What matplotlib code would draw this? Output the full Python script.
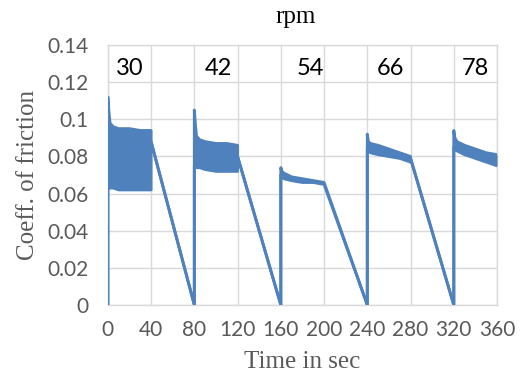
import matplotlib
matplotlib.use("Agg")
import matplotlib.pyplot as plt

# Time (s) and upper/lower envelope of the friction-coefficient trace
time_s = [0, 0, 1, 2, 5, 10, 20, 30, 40, 40, 80,
          80, 81, 82, 85, 90, 100, 110, 120, 120, 160,
          160, 161, 163, 170, 180, 190, 200, 240,
          240, 241, 243, 250, 260, 270, 280, 280, 320,
          320, 321, 323, 330, 340, 350, 360]
cof_upper = [0, 0.112, 0.104, 0.098, 0.096, 0.095, 0.095, 0.094, 0.094, 0.088, 0,
             0.105, 0.097, 0.091, 0.089, 0.088, 0.087, 0.087, 0.086, 0.080, 0,
             0.074, 0.072, 0.071, 0.069, 0.068, 0.067, 0.066, 0,
             0.092, 0.088, 0.087, 0.086, 0.084, 0.082, 0.080, 0.079, 0,
             0.094, 0.090, 0.088, 0.086, 0.084, 0.082, 0.081]
cof_lower = [0, 0.063, 0.063, 0.063, 0.063, 0.062, 0.062, 0.062, 0.062, 0.088, 0,
             0.075, 0.074, 0.074, 0.074, 0.073, 0.072, 0.072, 0.072, 0.080, 0,
             0.070, 0.069, 0.068, 0.067, 0.066, 0.066, 0.065, 0,
             0.084, 0.083, 0.082, 0.081, 0.080, 0.079, 0.077, 0.079, 0,
             0.085, 0.084, 0.083, 0.081, 0.079, 0.077, 0.075]

rpm_labels = ["30", "42", "54", "66", "78"]
rpm_x = [20, 102, 187, 261, 340]
rpm_y = 0.1275

x_ticks = [0, 40, 80, 120, 160, 200, 240, 280, 320, 360]
y_ticks = [0, 0.02, 0.04, 0.06, 0.08, 0.1, 0.12, 0.14]
y_tick_labels = ["0", "0.02", "0.04", "0.06", "0.08", "0.1", "0.12", "0.14"]

blue = "#4f81bd"
grid = "#d9d9d9"
tick_col = "#595959"

fig = plt.figure(figsize=(5.21, 3.86), dpi=100)
ax = fig.add_axes([0.207, 0.210, 0.747, 0.673])

ax.fill_between(time_s, cof_lower, cof_upper, color=blue, linewidth=0, zorder=3)
ax.plot(time_s, cof_upper, color=blue, linewidth=2.1, zorder=4)
ax.plot(time_s, cof_lower, color=blue, linewidth=2.1, zorder=4)

for lab, xv in zip(rpm_labels, rpm_x):
    ax.text(xv, rpm_y, lab, ha="center", va="center", fontsize=17,
            family="Lato", color="black", zorder=5)

ax.set_xlim(0, 360)
ax.set_ylim(0, 0.14)
ax.set_xticks(x_ticks)
ax.set_yticks(y_ticks)
ax.set_yticklabels(y_tick_labels)
ax.grid(True, color=grid, linewidth=1)
ax.set_axisbelow(True)
for s in ax.spines.values():
    s.set_color(grid)
    s.set_linewidth(1)
ax.tick_params(axis="both", length=0, labelsize=15, labelcolor=tick_col)
ax.tick_params(axis="y", pad=14)
ax.tick_params(axis="x", pad=11)
for lbl in ax.get_xticklabels() + ax.get_yticklabels():
    lbl.set_family("Lato")

ax.set_xlabel("Time in sec", family="Liberation Serif", fontsize=18,
              color=tick_col, labelpad=8)
ax.set_ylabel("Coeff. of friction", family="Liberation Serif", fontsize=18,
              color=tick_col, labelpad=6)
fig.text(0.568, 0.955, "rpm", family="Liberation Serif", fontsize=18,
         color="black", ha="center", va="center")

fig.savefig("out.png", dpi=100)
